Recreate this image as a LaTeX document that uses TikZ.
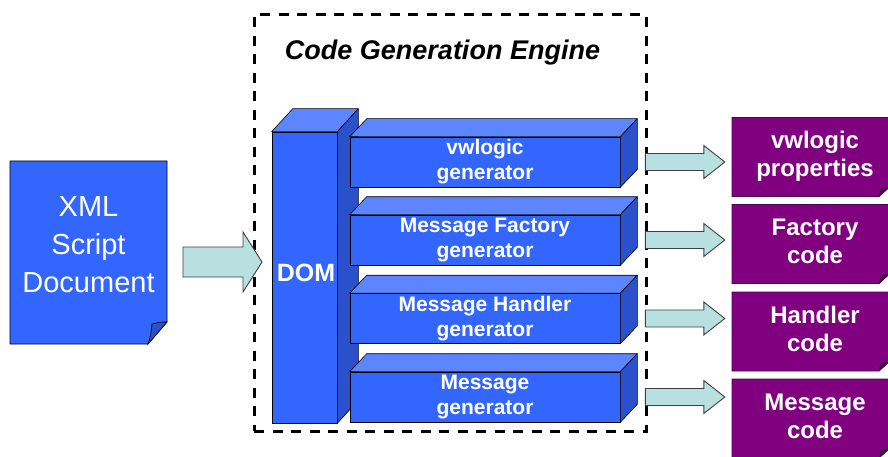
\documentclass[tikz,border=0pt]{standalone}
\usepackage{fontspec}
\setmainfont{Liberation Sans}
\usetikzlibrary{calc}

\definecolor{blueface}{HTML}{3366FF}
\definecolor{bluetop}{HTML}{5C85FF}
\definecolor{blueside}{HTML}{2A50CC}
\definecolor{arrowfill}{HTML}{B8E0E0}
\definecolor{arrowline}{HTML}{404040}
\definecolor{purpledoc}{HTML}{800080}
\definecolor{purplefold}{HTML}{4E0050}

% top and right faces of a box whose front face is node #1; depth (#2 right, #3 up)
\newcommand\boxfaces[3]{%
  \filldraw[topface] (#1.north west) -- ++(#2,-#3) -- ($(#1.north east)+(#2,-#3)$) -- (#1.north east) -- cycle;
  \filldraw[sideface] (#1.north east) -- ++(#2,-#3) -- ($(#1.south east)+(#2,-#3)$) -- (#1.south east) -- cycle;
}
% horizontal block arrow from #1 to #2: body half height #3, head half height #4, head length #5
\newcommand\fatarrow[5]{%
  \path[blockarrow] let \p1=(#1), \p2=(#2) in
    (\x1,\y1+#3pt) -- (\x2-#5pt,\y1+#3pt) -- (\x2-#5pt,\y1+#4pt) -- (\x2,\y1)
    -- (\x2-#5pt,\y1-#4pt) -- (\x2-#5pt,\y1-#3pt) -- (\x1,\y1-#3pt) -- cycle;
}

\begin{document}
\begin{tikzpicture}[x=1pt,y=-1pt,
  facebox/.style={draw=black, line width=0.6pt, fill=blueface, text=white, align=center, inner sep=0pt},
  genbox/.style={facebox, minimum width=270pt, minimum height=50pt, font=\bfseries\fontsize{21}{25}\selectfont},
  dombox/.style={facebox, minimum width=65pt, minimum height=291pt, font=\bfseries\fontsize{25}{30}\selectfont},
  outdoc/.style={text=white, inner sep=0pt, minimum width=157pt, minimum height=79pt,
                 font=\bfseries\fontsize{24}{28}\selectfont},
  xmltext/.style={text=white, align=center, inner sep=0pt, font=\fontsize{29}{38}\selectfont},
  blockarrow/.style={draw=arrowline, line width=0.9pt, fill=arrowfill, line join=miter},
  topface/.style={draw=black, line width=0.6pt, fill=bluetop, line join=round},
  sideface/.style={draw=black, line width=0.6pt, fill=blueside, line join=round},
  enginebox/.style={draw=black, line width=3pt, dash pattern=on 10pt off 8.5pt, inner sep=0pt},
  titletext/.style={font=\bfseries\itshape\fontsize{27}{32}\selectfont}
]
\useasboundingbox (0,0) rectangle (888,457);
\fill[white] (0,0) rectangle (888,457);
\begin{scope}
\clip (0,0) rectangle (888,457);

% dashed frame of the engine
\node[enginebox, minimum width=392pt, minimum height=416pt] (engine) at (450,223) {};
\node[titletext] (title) at (442.5,53) {Code Generation Engine};

% input document with folded corner
\filldraw[draw=black, line width=0.8pt, fill=blueface]
  (10,161) -- (167,161) -- (167,322) -- (148,344) -- (10,344) -- cycle;
\filldraw[draw=black, line width=0.6pt, fill=blueside]
  (148,344) -- (167,322) .. controls (160,322) .. (152,324) .. controls (151,334) .. cycle;
\node[xmltext] (xml) at (88.5,245) {XML\\Script\\Document};

% DOM column
\node[dombox] (dom) at (304.5,277.5) {};
\boxfaces{dom}{21}{23}
\node[text=white, font=\bfseries\fontsize{25}{30}\selectfont, inner sep=0pt] (domlabel) at (306,273) {DOM};

% generators
\node[genbox] (g1) at (485,162) {vwlogic\\generator};
\node[genbox] (g2) at (485,240) {Message Factory\\generator};
\node[genbox] (g3) at (485,318.5) {Message Handler\\generator};
\node[genbox] (g4) at (485,397) {Message\\generator};
\foreach \g in {g1,g2,g3,g4} { \boxfaces{\g}{17}{18} }

% output documents (text set slightly right of the page centre)
\foreach \i/\y/\txt in {1/157/{vwlogic\\properties}, 2/244/{Factory\\code}, 3/331.5/{Handler\\code}, 4/418.5/{Message\\code}} {
  \filldraw[draw=purplefold, line width=0.6pt, fill=purpledoc]
    (732,\y-39.5) -- (889,\y-39.5) -- (889,\y+30.5) -- (879,\y+39.5) -- (732,\y+39.5) -- cycle;
  \filldraw[draw=purplefold, line width=0.5pt, fill=purplefold]
    (879,\y+39.5) -- (889,\y+30.5) -- (881,\y+31) -- cycle;
  \node[outdoc] (d\i) at (810.5,\y) {\hspace*{9pt}\begin{tabular}{@{}c@{}}\txt\end{tabular}};
}

% input arrow into the engine
\coordinate (inA) at (183,262);
\coordinate (inB) at (262,262);
\fatarrow{inA}{inB}{15}{30}{19}

% output arrows, from each generator to its document
\foreach \i in {1,...,4} {
  \coordinate (os\i) at ($(g\i.east)+(25,0)$);
  \coordinate (oe\i) at ($(d\i.west |- g\i.east)+(-7,0)$);
  \fatarrow{os\i}{oe\i}{8.5}{16.5}{21}
}
\end{scope}
\end{tikzpicture}
\end{document}
